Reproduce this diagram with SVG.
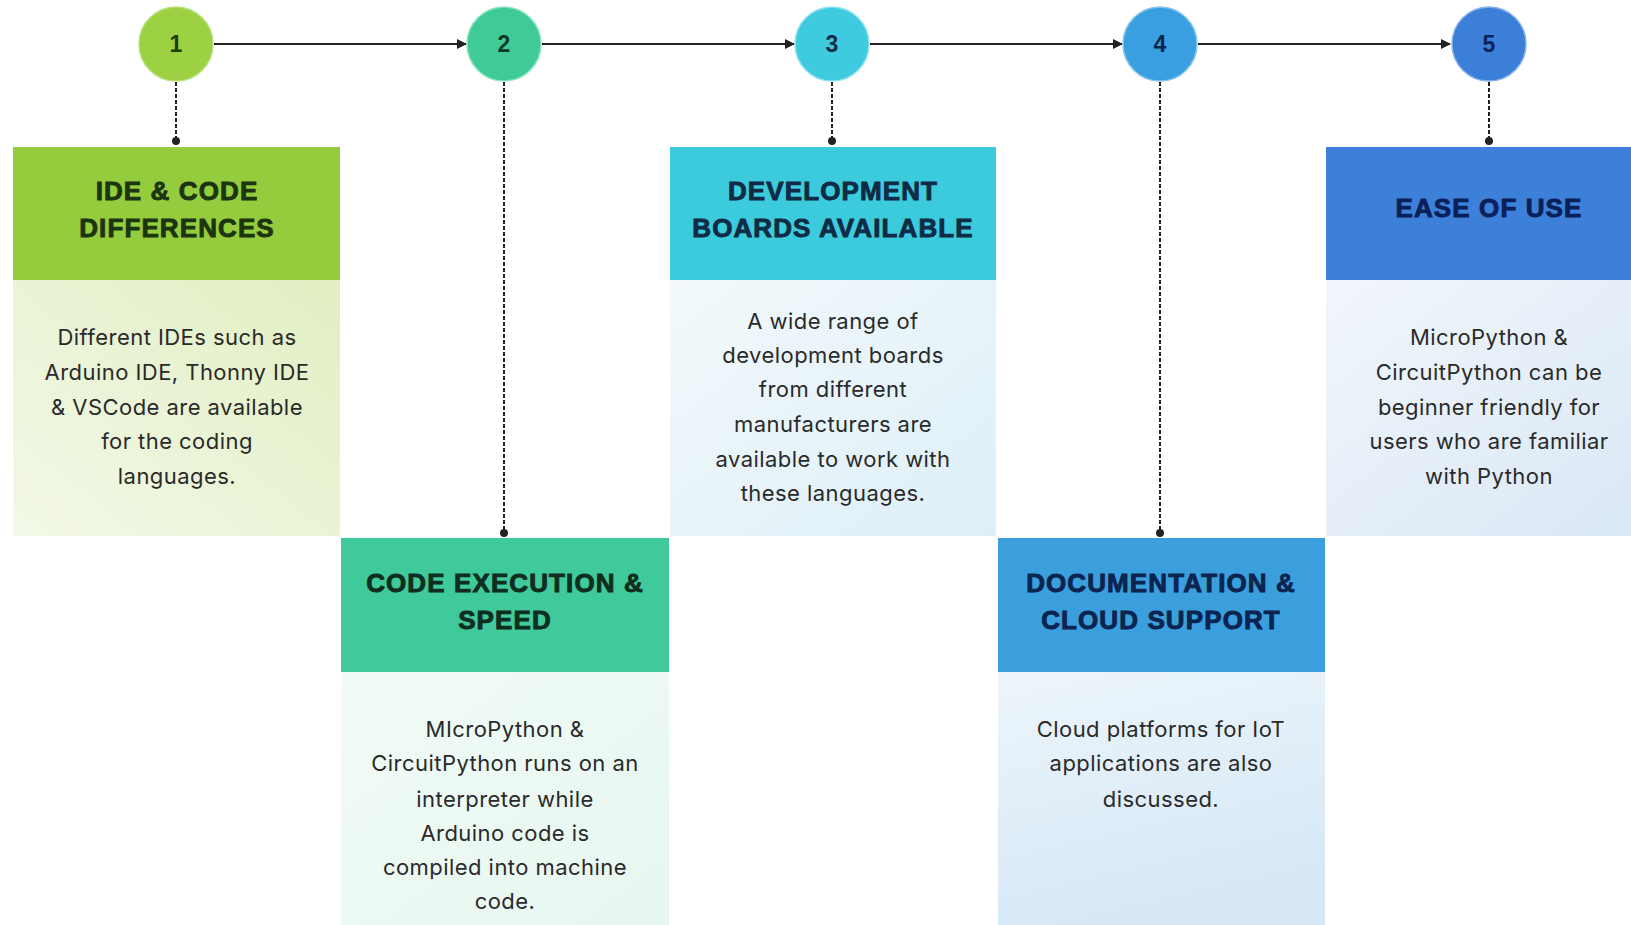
<svg xmlns="http://www.w3.org/2000/svg" width="1631" height="925" viewBox="0 0 1631 925">
<defs>
<style>
.hd{font-family:"Liberation Sans",Arial,sans-serif;font-weight:bold;font-size:26px;letter-spacing:1.1px;text-anchor:middle;stroke-width:0.9px;paint-order:stroke}
.bd{font-family:Inter,"Noto Sans",sans-serif;font-size:22px;letter-spacing:0.45px;fill:#2a2a2a;text-anchor:middle}
.num{font-family:"Liberation Sans",Arial,sans-serif;font-weight:bold;font-size:23px;text-anchor:middle}
.flow{stroke:#222;stroke-width:2;fill:none}
.dash{stroke:#222;stroke-width:2;stroke-dasharray:4 2;fill:none}
</style>
<marker id="arr" viewBox="0 0 10 10" refX="9" refY="5" markerWidth="5" markerHeight="5" orient="auto" markerUnits="strokeWidth">
<path d="M0,0 L10,5 L0,10 z" fill="#222"/>
</marker>
<marker id="dot" viewBox="0 0 10 10" refX="5" refY="5" markerWidth="4" markerHeight="4" markerUnits="strokeWidth">
<circle cx="5" cy="5" r="5" fill="#222"/>
</marker>
<linearGradient id="g1" x1="1" y1="0" x2="0" y2="1"><stop offset="0" stop-color="#e1efc2"/><stop offset="1" stop-color="#f3f8e8"/></linearGradient>
<linearGradient id="g2" x1="0" y1="0" x2="1" y2="1"><stop offset="0" stop-color="#f2fbf7"/><stop offset="1" stop-color="#e6f7ef"/></linearGradient>
<linearGradient id="g3" x1="0" y1="0" x2="1" y2="1"><stop offset="0" stop-color="#f3f9fb"/><stop offset="1" stop-color="#ddeff8"/></linearGradient>
<linearGradient id="g4" x1="0" y1="0" x2="0.3" y2="1"><stop offset="0" stop-color="#edf5fb"/><stop offset="1" stop-color="#d6e8f6"/></linearGradient>
<linearGradient id="g5" x1="0" y1="0" x2="1" y2="1"><stop offset="0" stop-color="#f1f6fb"/><stop offset="1" stop-color="#d9e7f5"/></linearGradient>
</defs>
<rect width="1631" height="925" fill="#ffffff"/>

<g id="connectors">
<line class="flow" x1="214" y1="44" x2="466" y2="44" marker-end="url(#arr)"/>
<line class="flow" x1="542" y1="44" x2="794" y2="44" marker-end="url(#arr)"/>
<line class="flow" x1="870" y1="44" x2="1122" y2="44" marker-end="url(#arr)"/>
<line class="flow" x1="1198" y1="44" x2="1450" y2="44" marker-end="url(#arr)"/>
<line class="dash" x1="176" y1="82" x2="176" y2="141" marker-end="url(#dot)"/>
<line class="dash" x1="504" y1="82" x2="504" y2="533" marker-end="url(#dot)"/>
<line class="dash" x1="832" y1="82" x2="832" y2="141" marker-end="url(#dot)"/>
<line class="dash" x1="1160" y1="82" x2="1160" y2="533" marker-end="url(#dot)"/>
<line class="dash" x1="1489" y1="82" x2="1489" y2="141" marker-end="url(#dot)"/>
</g>

<g id="step1">
<circle cx="176" cy="44" r="37" fill="#9bd142" stroke="#b7e07a" stroke-width="1.5"/>
<text class="num" x="176" y="52" fill="#1f3d10">1</text>
<rect x="13" y="147" width="327" height="133" fill="#95cc3e"/>
<text class="hd" x="177" y="200" fill="#1c3510" stroke="#1c3510">IDE &amp; CODE</text>
<text class="hd" x="177" y="237" fill="#1c3510" stroke="#1c3510">DIFFERENCES</text>
<rect x="13" y="280" width="327" height="256" fill="url(#g1)"/>
<text class="bd" x="177" y="345">Different IDEs such as</text>
<text class="bd" x="177" y="380">Arduino IDE, Thonny IDE</text>
<text class="bd" x="177" y="415">&amp; VSCode are available</text>
<text class="bd" x="177" y="449">for the coding</text>
<text class="bd" x="177" y="484">languages.</text>
</g>

<g id="step2">
<circle cx="504" cy="44" r="37" fill="#3ecb97" stroke="#8de3c3" stroke-width="1.5"/>
<text class="num" x="504" y="52" fill="#103a24">2</text>
<rect x="341" y="538" width="328" height="134" fill="#40c99b"/>
<text class="hd" x="505" y="592" fill="#0f2e20" stroke="#0f2e20">CODE EXECUTION &amp;</text>
<text class="hd" x="505" y="629" fill="#0f2e20" stroke="#0f2e20">SPEED</text>
<rect x="341" y="672" width="328" height="253" fill="url(#g2)"/>
<text class="bd" x="505" y="737">MIcroPython &amp;</text>
<text class="bd" x="505" y="771">CircuitPython runs on an</text>
<text class="bd" x="505" y="807">interpreter while</text>
<text class="bd" x="505" y="841">Arduino code is</text>
<text class="bd" x="505" y="875">compiled into machine</text>
<text class="bd" x="505" y="909">code.</text>
</g>

<g id="step3">
<circle cx="832" cy="44" r="37" fill="#3ecbe0" stroke="#8fe2ee" stroke-width="1.5"/>
<text class="num" x="832" y="52" fill="#0f2c44">3</text>
<rect x="670" y="147" width="326" height="133" fill="#3ccbdd"/>
<text class="hd" x="833" y="200" fill="#102b45" stroke="#102b45">DEVELOPMENT</text>
<text class="hd" x="833" y="237" fill="#102b45" stroke="#102b45">BOARDS AVAILABLE</text>
<rect x="670" y="280" width="326" height="256" fill="url(#g3)"/>
<text class="bd" x="833" y="329">A wide range of</text>
<text class="bd" x="833" y="363">development boards</text>
<text class="bd" x="833" y="397">from different</text>
<text class="bd" x="833" y="432">manufacturers are</text>
<text class="bd" x="833" y="467">available to work with</text>
<text class="bd" x="833" y="501">these languages.</text>
</g>

<g id="step4">
<circle cx="1160" cy="44" r="37" fill="#3a9fe0" stroke="#86c6ee" stroke-width="1.5"/>
<text class="num" x="1160" y="52" fill="#0c2448">4</text>
<rect x="998" y="538" width="327" height="134" fill="#3a9fdc"/>
<text class="hd" x="1161" y="592" fill="#0b2450" stroke="#0b2450">DOCUMENTATION &amp;</text>
<text class="hd" x="1161" y="629" fill="#0b2450" stroke="#0b2450">CLOUD SUPPORT</text>
<rect x="998" y="672" width="327" height="253" fill="url(#g4)"/>
<text class="bd" x="1161" y="737">Cloud platforms for IoT</text>
<text class="bd" x="1161" y="771">applications are also</text>
<text class="bd" x="1161" y="807">discussed.</text>
</g>

<g id="step5">
<circle cx="1489" cy="44" r="37" fill="#3c7fd8" stroke="#86b2ea" stroke-width="1.5"/>
<text class="num" x="1489" y="52" fill="#0b2258">5</text>
<rect x="1326" y="147" width="330" height="133" fill="#3d80d9"/>
<text class="hd" x="1489" y="217" fill="#0b2058" stroke="#0b2058">EASE OF USE</text>
<rect x="1326" y="280" width="330" height="256" fill="url(#g5)"/>
<text class="bd" x="1489" y="345">MicroPython &amp;</text>
<text class="bd" x="1489" y="380">CircuitPython can be</text>
<text class="bd" x="1489" y="415">beginner friendly for</text>
<text class="bd" x="1489" y="449">users who are familiar</text>
<text class="bd" x="1489" y="484">with Python</text>
</g>
</svg>
